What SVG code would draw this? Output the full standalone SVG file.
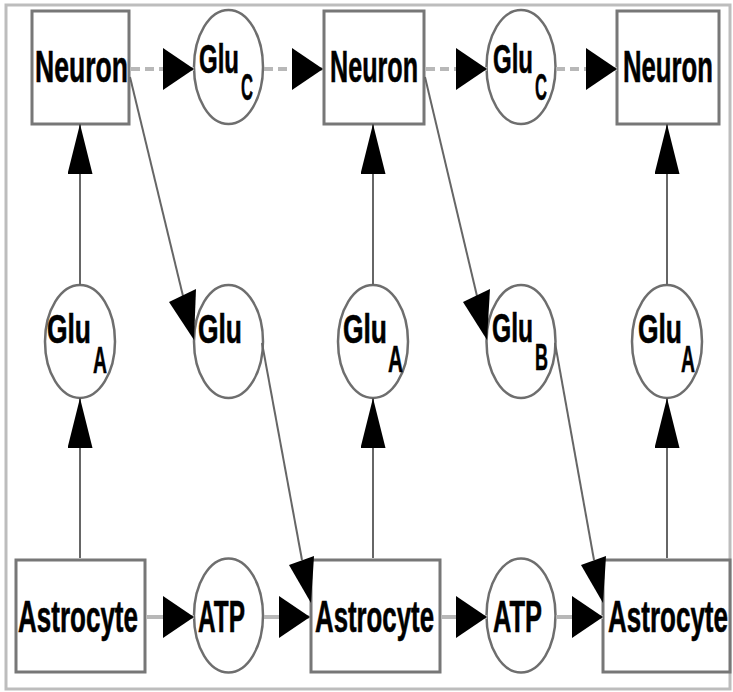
<svg xmlns="http://www.w3.org/2000/svg" width="733" height="692" viewBox="0 0 733 692">
<style>
.box{fill:#fff;stroke:#777;stroke-width:3}
.ell{fill:#fff;stroke:#6e6e6e;stroke-width:2.5}
.t{font-family:"Liberation Sans",Arial,sans-serif;font-weight:bold;font-size:44px;fill:#000;stroke:#000;stroke-width:0.6}
.g{font-family:"Liberation Sans",Arial,sans-serif;font-weight:bold;font-size:40px;fill:#000;stroke:#000;stroke-width:0.6}
.s{font-family:"Liberation Sans",Arial,sans-serif;font-weight:bold;font-size:36px;fill:#000;stroke:#000;stroke-width:0.5}
.hl{stroke:#b8b8b8;stroke-width:4;stroke-dasharray:9 5;fill:none}
.bl{stroke:#b8b8b8;stroke-width:4;fill:none}
.vl{stroke:#666;stroke-width:2;fill:none}
.head{fill:#000}
</style>
<defs>
<marker id="ah" markerUnits="userSpaceOnUse" markerWidth="32" markerHeight="42" refX="31" refY="21" orient="auto"><path d="M0,0 L31,21 L0,42 Z" fill="#000"/></marker>
<marker id="av" markerUnits="userSpaceOnUse" markerWidth="51" markerHeight="26" refX="50" refY="12.5" orient="auto"><path d="M0,0 L50,12.5 L0,25 Z" fill="#000"/></marker>
</defs>
<rect x="6" y="5" width="724" height="684" fill="#fff" stroke="#bdbdbd" stroke-width="3"/>
<g id="neuron1"><rect class="box" x="32" y="11" width="97" height="113"/><text class="t" x="35" y="82" textLength="93" lengthAdjust="spacingAndGlyphs">Neuron</text></g>
<g id="neuron2"><rect class="box" x="324" y="11" width="100" height="113"/><text class="t" x="330" y="82" textLength="88" lengthAdjust="spacingAndGlyphs">Neuron</text></g>
<g id="neuron3"><rect class="box" x="617" y="11" width="102" height="113"/><text class="t" x="623" y="82" textLength="90" lengthAdjust="spacingAndGlyphs">Neuron</text></g>
<g id="gluC1"><ellipse class="ell" cx="228.5" cy="67" rx="34.5" ry="57"/><text class="g" x="199" y="73" textLength="40" lengthAdjust="spacingAndGlyphs">Glu</text><text class="s" x="241" y="100" textLength="12" lengthAdjust="spacingAndGlyphs">C</text></g>
<g id="gluC2"><ellipse class="ell" cx="521" cy="67" rx="34.5" ry="57"/><text class="g" x="493" y="73" textLength="40" lengthAdjust="spacingAndGlyphs">Glu</text><text class="s" x="535" y="100" textLength="12" lengthAdjust="spacingAndGlyphs">C</text></g>
<g id="gluA1"><ellipse class="ell" cx="80" cy="341.5" rx="35" ry="56.5"/><text class="g" x="47" y="343" textLength="44" lengthAdjust="spacingAndGlyphs">Glu</text><text class="s" x="93" y="373" textLength="14" lengthAdjust="spacingAndGlyphs">A</text></g>
<g id="glu"><ellipse class="ell" cx="228.5" cy="341.5" rx="34.5" ry="56.5"/><text class="g" x="198" y="343" textLength="44" lengthAdjust="spacingAndGlyphs">Glu</text></g>
<g id="gluA2"><ellipse class="ell" cx="373" cy="341.5" rx="35" ry="56.5"/><text class="g" x="343" y="343" textLength="44" lengthAdjust="spacingAndGlyphs">Glu</text><text class="s" x="388" y="372" textLength="15" lengthAdjust="spacingAndGlyphs">A</text></g>
<g id="gluB"><ellipse class="ell" cx="521" cy="341.5" rx="34.5" ry="56.5"/><text class="g" x="492" y="342" textLength="41" lengthAdjust="spacingAndGlyphs">Glu</text><text class="s" x="535" y="370" textLength="13" lengthAdjust="spacingAndGlyphs">B</text></g>
<g id="gluA3"><ellipse class="ell" cx="667" cy="341.5" rx="35" ry="56.5"/><text class="g" x="638" y="343" textLength="44" lengthAdjust="spacingAndGlyphs">Glu</text><text class="s" x="681" y="372" textLength="14" lengthAdjust="spacingAndGlyphs">A</text></g>
<g id="astro1"><rect class="box" x="16" y="560" width="129" height="112"/><text class="t" x="18" y="632" textLength="120" lengthAdjust="spacingAndGlyphs">Astrocyte</text></g>
<g id="atp1"><ellipse class="ell" cx="228.5" cy="615.5" rx="34.5" ry="57"/><text class="t" x="198" y="632" textLength="47" lengthAdjust="spacingAndGlyphs">ATP</text></g>
<g id="astro2"><rect class="box" x="311" y="560" width="129" height="112"/><text class="t" x="315" y="632" textLength="119" lengthAdjust="spacingAndGlyphs">Astrocyte</text></g>
<g id="atp2"><ellipse class="ell" cx="521" cy="615.5" rx="34.5" ry="57"/><text class="t" x="493" y="632" textLength="49" lengthAdjust="spacingAndGlyphs">ATP</text></g>
<g id="astro3"><rect class="box" x="603" y="560" width="127" height="112"/><text class="t" x="608" y="632" textLength="120" lengthAdjust="spacingAndGlyphs">Astrocyte</text></g>
<g id="connectors">
<line class="hl" x1="131" y1="69" x2="194" y2="69" marker-end="url(#ah)"/>
<line class="hl" x1="264" y1="69" x2="323" y2="69" marker-end="url(#ah)"/>
<line class="hl" x1="426" y1="69" x2="487" y2="69" marker-end="url(#ah)"/>
<line class="hl" x1="556" y1="69" x2="617" y2="69" marker-end="url(#ah)"/>
<line class="bl" x1="147" y1="617" x2="194" y2="617" marker-end="url(#ah)"/>
<line class="bl" x1="264" y1="617" x2="310" y2="617" marker-end="url(#ah)"/>
<line class="bl" x1="442" y1="617" x2="487" y2="617" marker-end="url(#ah)"/>
<line class="bl" x1="556" y1="617" x2="603" y2="617" marker-end="url(#ah)"/>
<line class="vl" x1="80" y1="558" x2="80" y2="398" marker-end="url(#av)"/>
<line class="vl" x1="80" y1="285" x2="80" y2="124" marker-end="url(#av)"/>
<line class="vl" x1="373" y1="558" x2="373" y2="398" marker-end="url(#av)"/>
<line class="vl" x1="373" y1="285" x2="373" y2="124" marker-end="url(#av)"/>
<line class="vl" x1="667" y1="558" x2="667" y2="398" marker-end="url(#av)"/>
<line class="vl" x1="667" y1="285" x2="667" y2="124" marker-end="url(#av)"/>
<line class="vl" x1="130" y1="77" x2="183" y2="296"/>
<polygon class="head" points="194,340 169,302 196,289"/>
<line class="vl" x1="262" y1="343" x2="302" y2="560"/>
<polygon class="head" points="311,603 289,565 314,556"/>
<line class="vl" x1="425" y1="77" x2="477" y2="296"/>
<polygon class="head" points="487,340 463,302 490,289"/>
<line class="vl" x1="555" y1="343" x2="594" y2="560"/>
<polygon class="head" points="603,603 581,565 606,556"/>
</g>
</svg>
